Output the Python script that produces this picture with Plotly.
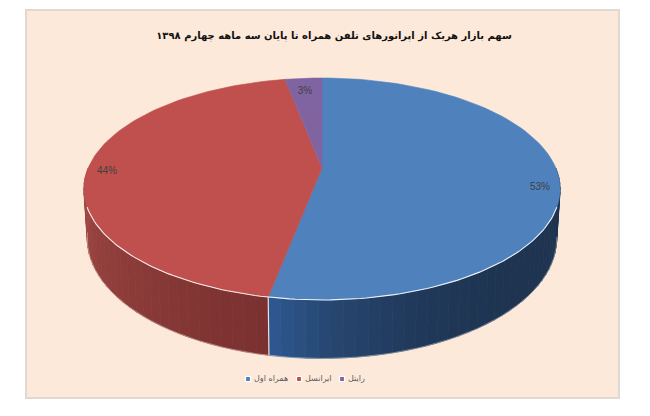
import numpy as np
import plotly.graph_objects as go

# --- data ---
categories = ["همراه اول", "ایرانسل", "رایتل"]
shares = [53, 44, 3]
colors = ["#4f81bd", "#c0504d", "#8064a2"]
side_ramps = {0: ("#1e3450", "#2f5a93", 5), 1: ("#7a3130", "#a34a46", 1)}
title_text = "سهم بازار هریک از اپراتورهای تلفن همراه تا پایان سه ماهه چهارم ۱۳۹۸"

# --- pie geometry: a disc seen in perspective (axis units match the picture's pixels) ---
CX = 322
K = 0.189
TOP = dict(y0=168, r=233.8, h=107)
BOT = dict(y0=216, r=230.5, h=115.5)


def rim(e, deg):
    a = np.radians(deg)
    u, v = np.sin(a), np.cos(a)
    d = 1 + K * v
    return CX + e["r"] * u / d, e["y0"] - e["h"] * v / d


def hex2rgb(h):
    return np.array([int(h[i:i + 2], 16) for i in (1, 3, 5)], float)


def mix(a, b, f):
    c = hex2rgb(a) * (1 - f) + hex2rgb(b) * f
    return "rgb(%d,%d,%d)" % tuple(c)


fracs = np.array(shares) / sum(shares)
edges = np.concatenate([[0], np.cumsum(fracs) * 360])

fig = go.Figure()

# extruded side, drawn as narrow strips so that the shade can change
for i in range(len(shares)):
    lo, hi = max(edges[i], 90), min(edges[i + 1], 270)
    if hi <= lo:
        continue
    n = max(2, int((hi - lo) / 2.5))
    ts = np.linspace(lo, hi, n + 1)
    c0, c1, power = side_ramps[i]
    for k in range(n):
        x0, y0 = rim(TOP, ts[k])
        x1, y1 = rim(TOP, ts[k + 1])
        x2, y2 = rim(BOT, ts[k + 1])
        x3, y3 = rim(BOT, ts[k])
        col = mix(c0, c1, ((k + 0.5) / n) ** power)
        fig.add_trace(go.Scatter(x=[x0, x1, x2, x3, x0], y=[y0, y1, y2, y3, y0],
                                 mode="lines", fill="toself", fillcolor=col,
                                 line=dict(color=col, width=0.8),
                                 showlegend=False, hoverinfo="skip"))

# faint light edge below the side
ts = np.linspace(100, 262, 120)
xs, ys = rim(BOT, ts)
fig.add_trace(go.Scatter(x=xs, y=ys, mode="lines",
                         line=dict(color="rgba(255,255,255,0.35)", width=1),
                         showlegend=False, hoverinfo="skip"))

# seam between the blue and red sides
seam = edges[1]
sx0, sy0 = rim(TOP, seam)
sx1, sy1 = rim(BOT, seam)
fig.add_trace(go.Scatter(x=[sx0, sx1], y=[sy0, sy1], mode="lines",
                         line=dict(color="rgba(255,255,255,0.85)", width=1.2),
                         showlegend=False, hoverinfo="skip"))

# top face
for i in range(len(shares)):
    ts = np.linspace(edges[i], edges[i + 1], 90)
    xs, ys = rim(TOP, ts)
    fig.add_trace(go.Scatter(x=[CX, *xs, CX], y=[TOP["y0"], *ys, TOP["y0"]],
                             mode="lines", fill="toself", fillcolor=colors[i],
                             line=dict(color=colors[i], width=0.6),
                             showlegend=False, name=categories[i],
                             hovertemplate=categories[i] + ": %{customdata}%<extra></extra>",
                             customdata=[shares[i]] * (len(ts) + 2)))

# highlight on the front rim
ts = np.linspace(110, 250, 120)
xs, ys = rim(TOP, ts)
fig.add_trace(go.Scatter(x=xs, y=ys, mode="lines",
                         line=dict(color="rgba(255,255,255,0.9)", width=1.1),
                         showlegend=False, hoverinfo="skip"))

# percent labels
LABEL_R = 0.92
LABEL_DY = [10, 3, 6]
mids = (edges[:-1] + edges[1:]) / 2
lx, ly = [], []
for m, dy in zip(mids, LABEL_DY):
    rx_, ry_ = rim(TOP, m)
    lx.append(CX + (rx_ - CX) * LABEL_R)
    ly.append(TOP["y0"] + (ry_ - TOP["y0"]) * LABEL_R + dy)
fig.add_trace(go.Scatter(x=lx, y=ly, mode="text",
                         text=["%d%%" % s for s in shares],
                         textfont=dict(family="Liberation Sans", size=10, color="#404040"),
                         showlegend=False, hoverinfo="skip"))

# legend row
LEGEND_X = [248, 299, 342]
LEGEND_Y = 379
fig.add_trace(go.Scatter(x=LEGEND_X, y=[LEGEND_Y] * 3, mode="markers",
                         marker=dict(symbol="square", size=5, color=colors,
                                     line=dict(color="white", width=1.2)),
                         showlegend=False, hoverinfo="skip"))
fig.add_trace(go.Scatter(x=[v + 6 for v in LEGEND_X], y=[LEGEND_Y] * 3, mode="text",
                         text=categories, textposition="middle right",
                         textfont=dict(family="DejaVu Sans", size=8, color="#595959"),
                         showlegend=False, hoverinfo="skip"))

fig.update_layout(
    width=650, height=416,
    margin=dict(l=0, r=0, t=0, b=0),
    paper_bgcolor="white", plot_bgcolor="white",
    showlegend=False,
    xaxis=dict(range=[0, 650], visible=False, fixedrange=True),
    yaxis=dict(range=[416, 0], visible=False, fixedrange=True),
    shapes=[dict(type="rect", xref="x", yref="y", x0=26, y0=10, x1=619, y1=398,
                 fillcolor="#fde9d9", line=dict(color="#e0d9d3", width=2), layer="below")],
    title=dict(text="<b>" + title_text + "</b>", x=334 / 650, xanchor="center",
               y=1 - 35 / 416, yanchor="middle",
               font=dict(family="DejaVu Sans", size=10, color="#111111")),
)

fig.write_html("out.html", config={"displayModeBar": False},
               post_script="document.body.style.margin='0';")
